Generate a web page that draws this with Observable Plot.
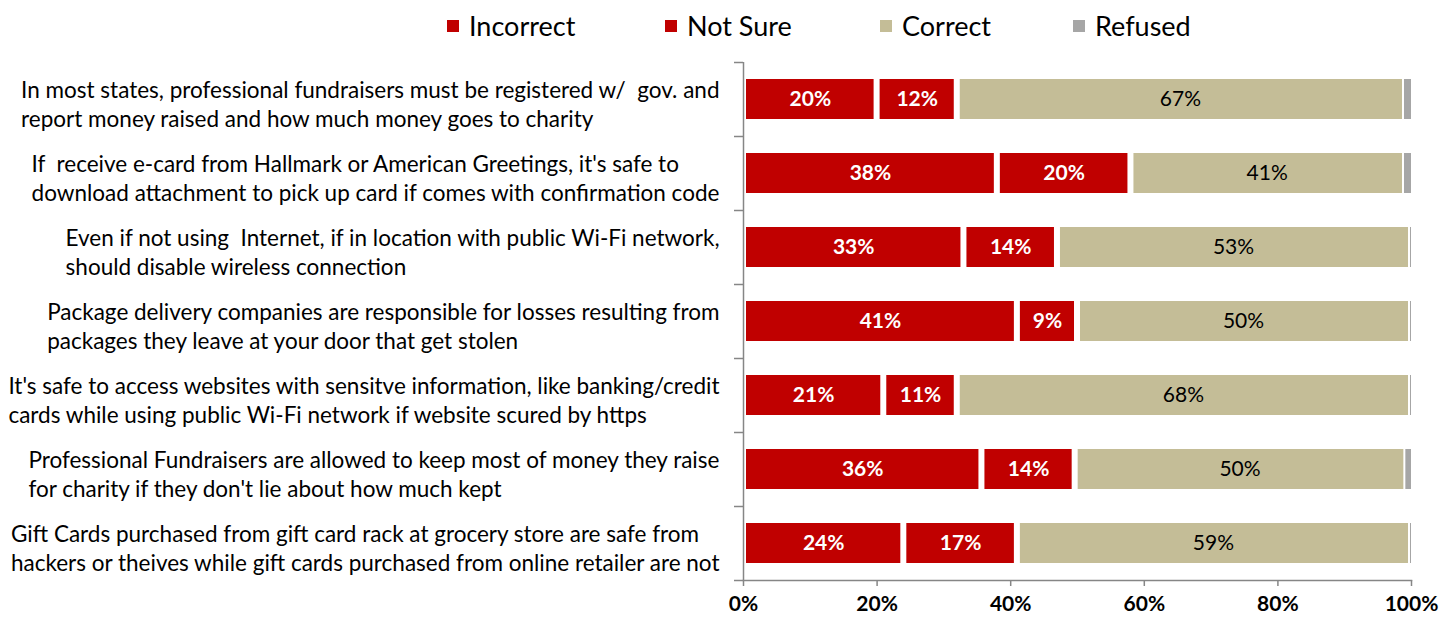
<!DOCTYPE html>
<html>
<head>
<meta charset="utf-8">
<script src="https://cdn.jsdelivr.net/npm/d3@7"></script>
<script src="https://cdn.jsdelivr.net/npm/@observablehq/plot@0.6"></script>
<style>
  body { margin: 0; background: #fff; font-family: Lato, "Open Sans", sans-serif; }
  #legend { position: relative; width: 1455px; height: 50px; }
  .item { position: absolute; top: 9px; display: flex; align-items: center; font-size: 27px; color: #000; line-height: 34px; white-space: nowrap; }
  .sw { width: 12px; height: 12px; margin-right: 10px; }
  svg text { white-space: pre; }
</style>
</head>
<body>
<div id="legend"></div>
<div id="chart"></div>
<script>
const questions = [
  "In most states, professional fundraisers must be registered w/  gov. and\nreport money raised and how much money goes to charity",
  "If  receive e-card from Hallmark or American Greetings, it's safe to\ndownload attachment to pick up card if comes with confirmation code",
  "Even if not using  Internet, if in location with public Wi-Fi network,\nshould disable wireless connection",
  "Package delivery companies are responsible for losses resulting from\npackages they leave at your door that get stolen",
  "It's safe to access websites with sensitve information, like banking/credit\ncards while using public Wi-Fi network if website scured by https",
  "Professional Fundraisers are allowed to keep most of money they raise\nfor charity if they don't lie about how much kept",
  "Gift Cards purchased from gift card rack at grocery store are safe from\nhackers or theives while gift cards purchased from online retailer are not"
];
const responses = ["Incorrect", "Not Sure", "Correct", "Refused"];
const colors = ["#c00000", "#c00000", "#c4bd97", "#a6a6a6"];

const incorrect = [20, 38, 33, 41, 21, 35.8, 24];
const notSure   = [12, 20, 14, 9, 11, 14, 17];
const correct   = [66.8, 40.8, 52.7, 49.7, 67.7, 49.5, 58.7];
const refused   = [1.2, 1.2, 0.3, 0.3, 0.3, 1.0, 0.3];

const xTicks = [0, 0.2, 0.4, 0.6, 0.8, 1];
const legendLeft = [447, 665, 880, 1073];

const series = {"Incorrect": incorrect, "Not Sure": notSure, "Correct": correct, "Refused": refused};
const data = questions.flatMap((q, i) => responses.map(r => ({q, resp: r, value: series[r][i]})));

// legend
const legend = document.getElementById("legend");
responses.forEach((r, i) => {
  const it = document.createElement("div");
  it.className = "item";
  it.style.left = legendLeft[i] + "px";
  it.innerHTML = `<span class="sw" style="background:${colors[i]}"></span><span>${r}</span>`;
  legend.append(it);
});

const stack = (extra) => Plot.stackX({x: "value", y: "q", z: "resp", fill: "resp", offset: "normalize", ...extra});
const isRed = d => d.resp === "Incorrect" || d.resp === "Not Sure";
const pct = d => Math.round(d.value) + "%";
const gray = "#868686";

const chart = Plot.plot({
  width: 1455,
  height: 570,
  marginLeft: 743,
  marginRight: 44,
  marginTop: 12,
  marginBottom: 40,
  style: {fontFamily: "Lato, 'Open Sans', sans-serif", color: "black", background: "white", overflow: "visible"},
  x: {domain: [0, 1], axis: null, label: null},
  y: {domain: questions, paddingInner: 0.46, paddingOuter: 0.23, axis: null, label: null},
  color: {domain: responses, range: colors},
  marks: [
    Plot.barX(data, Plot.filter(isRed, stack({insetLeft: 3, insetRight: 3}))),
    Plot.barX(data, Plot.filter(d => d.resp === "Correct", stack({insetLeft: 3, insetRight: 1}))),
    Plot.barX(data, Plot.filter(d => d.resp === "Refused", stack({insetLeft: 1}))),
    Plot.text(data, Plot.filter(isRed, stack({text: pct, fill: "white", fontWeight: "bold", fontSize: 21}))),
    Plot.text(data, Plot.filter(d => d.resp === "Correct", stack({text: pct, fill: "black", fontSize: 21}))),
    Plot.ruleX([0], {stroke: gray, strokeWidth: 1.5}),
    Plot.frame({anchor: "bottom", stroke: gray, strokeWidth: 1.5}),
    Plot.axisY({tickSize: 9, tickFormat: () => "", label: null, dy: -37, stroke: gray, strokeWidth: 1.5}),
    Plot.axisY([questions[questions.length - 1]], {tickSize: 9, tickFormat: () => "", label: null, dy: 37, stroke: gray, strokeWidth: 1.5}),
    Plot.axisX(xTicks, {tickSize: 6, tickPadding: 10, tickFormat: d3.format(".0%"), label: null, fontSize: 21, fontWeight: "bold", stroke: gray, strokeWidth: 1.5, fill: "black"}),
    Plot.text(questions, {y: d => d, text: d => d, frameAnchor: "left", textAnchor: "start", dx: -24, dy: 4, lineHeight: 1.29, fontSize: 22.5, fill: "black"})
  ]
});
document.getElementById("chart").append(chart);
const firstLines = questions.map(q => q.split("\n")[0]);
chart.querySelectorAll("text").forEach(t => {
  const first = t.querySelector("tspan");
  if (!first || !firstLines.includes(first.textContent)) return;
  const w = t.getBBox().width;
  const tr = t.getAttribute("transform") || "";
  t.setAttribute("transform", tr + ` translate(${-w},0)`);
});
</script>
</body>
</html>
